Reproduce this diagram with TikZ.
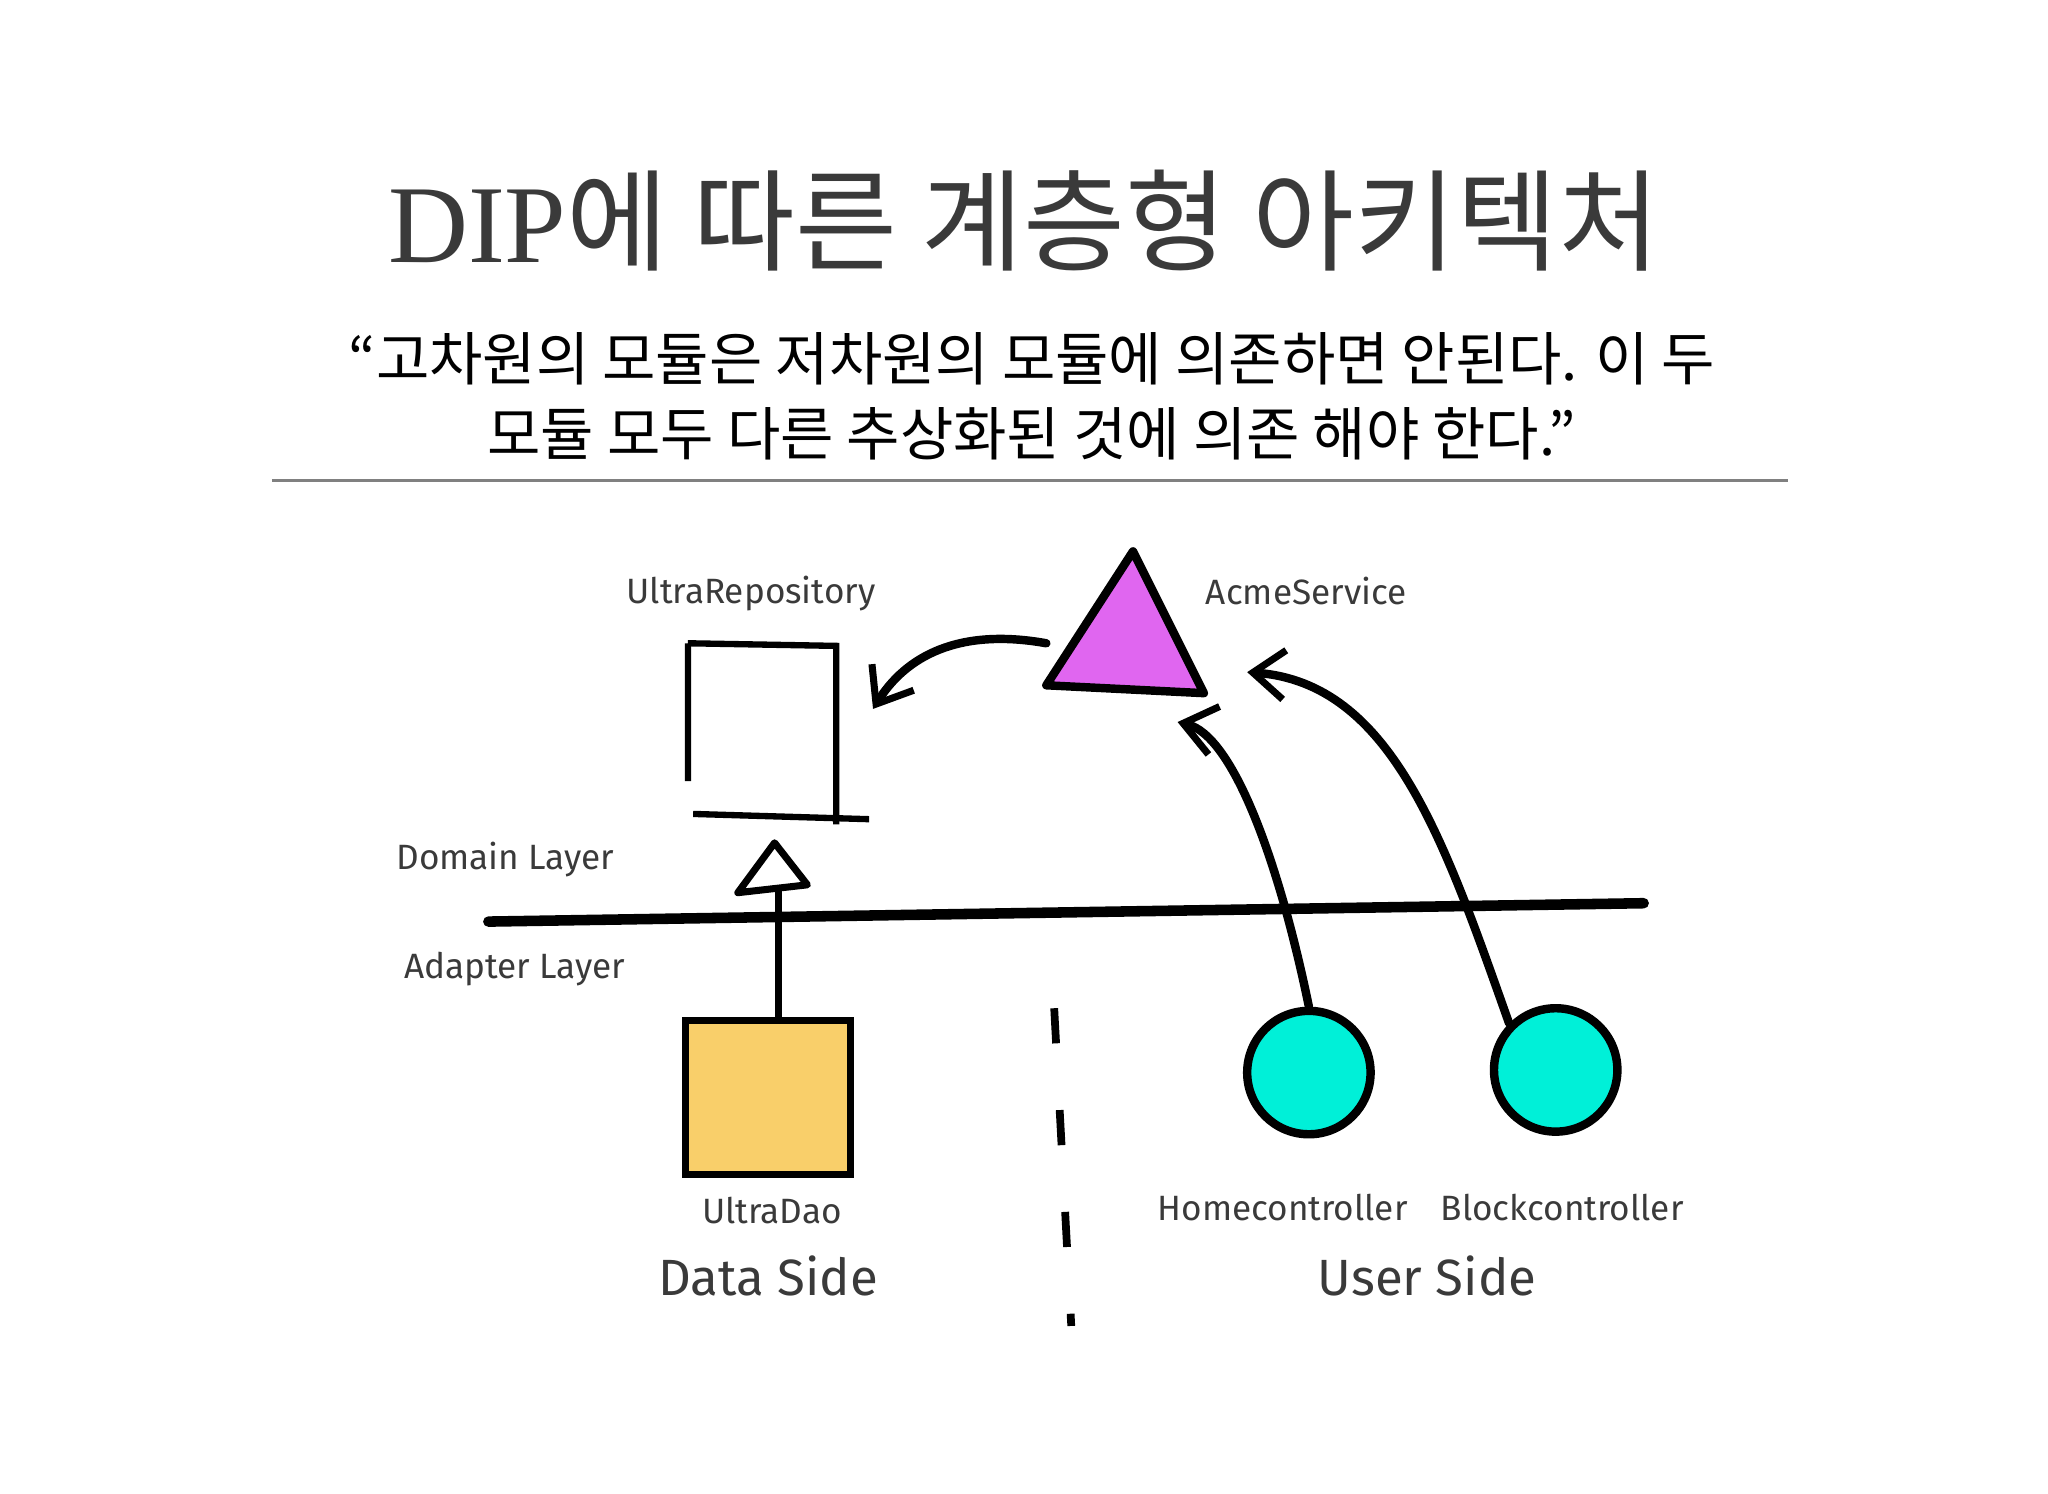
\documentclass[tikz,border=0pt]{standalone}
\usepackage{fontspec}
\setmainfont{Liberation Serif}
\newfontfamily\cjk{Noto Sans CJK KR}
\newfontfamily\hand{Fira Sans}
\usetikzlibrary{arrows.meta}
\definecolor{ink}{HTML}{3A3A3A}
\begin{document}
\begin{tikzpicture}[x=0.01313cm,y=-0.01313cm,
  lbl/.style={font=\hand\fontsize{10}{12}\selectfont,text=ink},
  side/.style={font=\hand\fontsize{14.5}{17}\selectfont,text=ink},
  pen/.style={line width=2.4pt,line cap=round,line join=round},
  tip/.style={-{Straight Barb[length=9pt,width=14pt,line width=2pt]}}]
\useasboundingbox (0,0) rectangle (1560,1138);
\node[font=\fontsize{31.5}{38}\selectfont,text=ink] (title) at (780,168) {DIP{\cjk 에 따른 계층형 아키텍처}};
\node[font=\cjk\fontsize{16.5}{21.5}\selectfont,text=black,align=center,inner sep=0pt] (quote) at (786,302)
  {“고차원의 모듈은 저차원의 모듈에 의존하면 안된다. 이 두\\모듈 모두 다른 추상화된 것에 의존 해야 한다.”};
\coordinate (rl) at (207,366); \coordinate (rr) at (1362,366);
\draw[gray,line width=0.6pt] (rl) -- (rr);
% repository
\node[lbl] (repol) at (572,452) {UltraRepository};
\node[inner sep=0pt,minimum size=0pt] (repo) at (580,555) {};
\path[draw,line width=1.8pt] (524,490) -- (524,595) (524,490) -- (637,492) -- (637,628) (528,620) -- (662,624);
% service
\node[lbl] (svcl) at (995,450) {AcmeService};
\coordinate (s1) at (863,420); \coordinate (s2) at (797,522); \coordinate (s3) at (917,528);
\filldraw[pen,fill={rgb,255:red,224;green,102;blue,240}] (s1) -- (s2) -- (s3) -- cycle;
\coordinate (a1) at (797,490); \coordinate (a2) at (665,540);
\draw[pen,tip] (a1) .. controls (730,478) and (690,500) .. (a2);
% layers
\node[lbl] (dom) at (385,655) {Domain Layer};
\node[lbl] (adp) at (392,738) {Adapter Layer};
\coordinate (l1) at (372,702); \coordinate (l2) at (1252,688);
\draw[pen,line width=3pt] (l1) -- (l2);
% dao
\node[draw,line width=2pt,fill={rgb,255:red,249;green,207;blue,106},minimum width=126*0.01313cm,minimum height=117*0.01313cm] (dao) at (585,836) {};
\node[lbl] (daol) at (588,922) {UltraDao};
\node[side] (ds) at (585,972) {Data Side};
\coordinate (t1) at (562,680); \coordinate (t2) at (590,642); \coordinate (t3) at (615,674);
\draw[line width=2pt,line join=round] (t1) -- (t2) -- (t3) -- cycle;
\coordinate (v2) at (593,675);
\draw[line width=2pt] (dao.north -| v2) -- (v2);
% dashed divider
\coordinate (d1) at (803,768); \coordinate (d2) at (816,1010);
\draw[line width=2.2pt,dash pattern=on 10pt off 19pt] (d1) -- (d2);
% controllers
\node[circle,draw,line width=2.4pt,fill={rgb,255:red,0;green,240;blue,216},minimum size=94*0.01313cm] (hc) at (997,817) {};
\node[circle,draw,line width=2.4pt,fill={rgb,255:red,0;green,240;blue,216},minimum size=94*0.01313cm] (bc) at (1185,815) {};
\node[lbl] (hcl) at (977,920) {Homecontroller};
\node[lbl] (bcl) at (1190,920) {Blockcontroller};
\node[side] (us) at (1087,972) {User Side};
\draw[pen,tip] (hc.north) .. controls (975,660) and (940,560) .. (897,550);
\draw[pen,tip] (bc.north west) .. controls (1100,640) and (1060,520) .. (950,512);
\end{tikzpicture}
\end{document}
